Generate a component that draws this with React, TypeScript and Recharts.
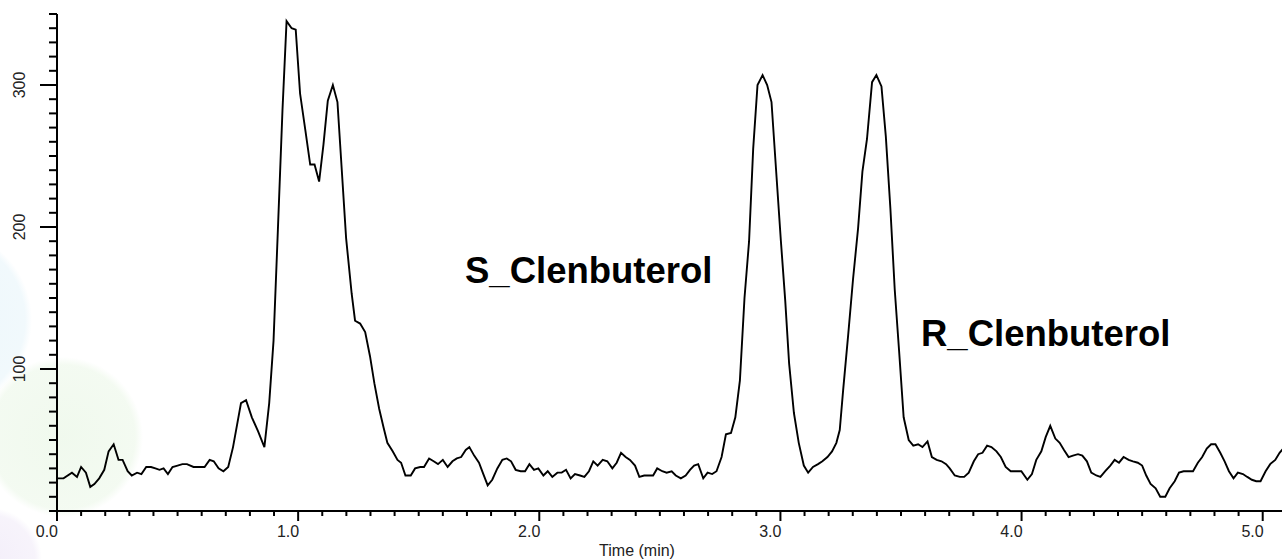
import { Customized, Line, LineChart, XAxis, YAxis } from 'recharts';

// retention time (min) and detector response
const times = [
  0.0, 0.027, 0.062, 0.083, 0.1, 0.12, 0.138, 0.155, 0.175, 0.196, 0.214, 0.235, 0.255, 0.272, 0.293,
  0.31, 0.332, 0.35, 0.37, 0.39, 0.408, 0.425, 0.442, 0.46, 0.479, 0.5, 0.52, 0.539, 0.566, 0.59,
  0.612, 0.633, 0.65, 0.67, 0.69, 0.71, 0.73, 0.763, 0.784, 0.808, 0.834, 0.86, 0.88, 0.898, 0.916,
  0.935, 0.952, 0.973, 0.99, 1.008, 1.03, 1.05, 1.068, 1.087, 1.105, 1.123, 1.144, 1.163, 1.181, 1.199,
  1.222, 1.236, 1.257, 1.278, 1.298, 1.316, 1.336, 1.354, 1.37, 1.392, 1.412, 1.427, 1.445, 1.467, 1.485,
  1.506, 1.522, 1.543, 1.562, 1.58, 1.6, 1.62, 1.64, 1.658, 1.676, 1.695, 1.71, 1.73, 1.75, 1.768,
  1.786, 1.805, 1.826, 1.847, 1.865, 1.883, 1.902, 1.923, 1.941, 1.959, 1.978, 1.996, 2.017, 2.035, 2.054,
  2.075, 2.093, 2.111, 2.13, 2.148, 2.169, 2.187, 2.206, 2.224, 2.242, 2.263, 2.282, 2.303, 2.321, 2.339,
  2.358, 2.376, 2.397, 2.415, 2.435, 2.456, 2.472, 2.489, 2.51, 2.528, 2.549, 2.566, 2.587, 2.607, 2.625,
  2.642, 2.659, 2.68, 2.698, 2.717, 2.735, 2.756, 2.774, 2.795, 2.813, 2.832, 2.851, 2.87, 2.887, 2.905,
  2.926, 2.945, 2.963, 2.984, 3.002, 3.02, 3.036, 3.056, 3.076, 3.097, 3.115, 3.135, 3.156, 3.174, 3.195,
  3.214, 3.232, 3.246, 3.26, 3.281, 3.301, 3.322, 3.34, 3.359, 3.38, 3.398, 3.419, 3.437, 3.456, 3.474,
  3.492, 3.511, 3.532, 3.551, 3.571, 3.589, 3.61, 3.628, 3.648, 3.668, 3.687, 3.702, 3.723, 3.744, 3.762,
  3.781, 3.802, 3.82, 3.838, 3.857, 3.875, 3.896, 3.914, 3.934, 3.955, 3.976, 3.999, 4.024, 4.043, 4.061,
  4.082, 4.1, 4.119, 4.14, 4.158, 4.176, 4.195, 4.213, 4.234, 4.252, 4.271, 4.289, 4.31, 4.327, 4.347,
  4.368, 4.386, 4.404, 4.423, 4.444, 4.462, 4.482, 4.5, 4.517, 4.535, 4.556, 4.575, 4.596, 4.614, 4.635,
  4.653, 4.672, 4.693, 4.711, 4.731, 4.749, 4.768, 4.786, 4.804, 4.824, 4.842, 4.86, 4.879, 4.897, 4.918,
  4.936, 4.955, 4.973, 4.991, 5.012, 5.031, 5.052, 5.07, 5.09,
];

const signal = [
  23, 23, 27, 24, 31, 27, 17, 19, 23, 29, 42, 47, 36, 36, 28,
  25, 27, 26, 31, 31, 30, 29, 30, 26, 31, 32, 33, 33, 31, 31,
  31, 36, 35, 30, 28, 31, 45, 76, 78, 66, 56, 45, 76, 120, 198,
  282, 345, 340, 339, 294, 268, 244, 244, 232, 258, 289, 300, 288, 240, 192,
  153, 134, 132, 126, 109, 90, 72, 59, 48, 42, 36, 34, 25, 25, 30,
  31, 31, 37, 35, 33, 36, 31, 35, 37, 38, 43, 45, 39, 34, 26,
  18, 22, 30, 36, 37, 35, 29, 28, 28, 33, 29, 30, 25, 28, 24,
  27, 27, 29, 23, 26, 25, 24, 28, 35, 32, 36, 35, 30, 34, 41,
  38, 36, 32, 24, 25, 25, 25, 30, 28, 27, 28, 25, 23, 25, 29,
  32, 33, 23, 27, 26, 28, 38, 54, 55, 66, 92, 150, 190, 255, 300,
  307, 300, 288, 235, 190, 148, 104, 69, 48, 32, 27, 31, 33, 35, 38,
  42, 48, 57, 85, 124, 163, 199, 239, 262, 302, 307, 299, 264, 213, 156,
  113, 66, 50, 46, 47, 45, 49, 38, 36, 35, 33, 30, 25, 24, 24,
  27, 35, 40, 41, 46, 45, 42, 38, 31, 28, 28, 28, 22, 26, 36,
  42, 52, 60, 51, 48, 43, 38, 39, 40, 39, 35, 27, 25, 24, 28,
  32, 36, 34, 38, 36, 35, 34, 32, 25, 19, 16, 10, 10, 16, 21,
  27, 28, 28, 28, 34, 38, 44, 47, 47, 41, 35, 28, 23, 27, 26,
  24, 22, 21, 21, 28, 33, 36, 41, 45,
];

const timeTicks = Array.from({ length: 51 }, (_, i) => i / 10);
const responseTicks = Array.from({ length: 36 }, (_, i) => i * 10);
const timeLabels = [0, 1, 2, 3, 4, 5];
const responseLabels = [100, 200, 300];

const peakNames = ['S_Clenbuterol', 'R_Clenbuterol'];

const data = times.map((t, i) => ({ t, v: signal[i] }));

const FONT = '"Liberation Sans", Arial, sans-serif';

const TimeTick = (props: any) => {
  const { x, y, payload } = props;
  const major = timeLabels.some((m) => Math.abs(m - payload.value) < 1e-6);
  return (
    <g>
      <line x1={x} y1={y} x2={x} y2={y + (major ? 10 : 5)} stroke="#000" strokeWidth={2} />
      {major && (
        <text x={x + 1} y={y + 26} textAnchor="end" fontSize={16} fontFamily={FONT} fill="#222">
          {payload.value.toFixed(1)}
        </text>
      )}
    </g>
  );
};

const ResponseTick = (props: any) => {
  const { x, y, payload } = props;
  const major = responseLabels.includes(payload.value);
  return (
    <g>
      <line x1={x - (major ? 17 : 8)} y1={y} x2={x} y2={y} stroke="#000" strokeWidth={2} />
      {major && (
        <text
          x={25}
          y={y}
          transform={`rotate(-90 25 ${y})`}
          textAnchor="middle"
          fontSize={16}
          fontFamily={FONT}
          fill="#222"
        >
          {payload.value}
        </text>
      )}
    </g>
  );
};

const Annotations = () => (
  <g fontFamily={FONT}>
    <text x={258} y={-3} textAnchor="end" fontSize={16} fill="#222">
      Intensity
    </text>
    <text x={465} y={283} fontSize={36.5} fontWeight="bold" fill="#000">
      {peakNames[0]}
    </text>
    <text x={921} y={346} fontSize={36.5} fontWeight="bold" fill="#000">
      {peakNames[1]}
    </text>
    <text x={637} y={556} textAnchor="middle" fontSize={16} fill="#222">
      Time (min)
    </text>
  </g>
);

export default function App() {
  return (
    <div
      style={{
        position: 'absolute',
        left: 0,
        top: 0,
        width: 1282,
        height: 559,
        overflow: 'hidden',
        background:
          'radial-gradient(circle at 63px 437px, rgba(222,242,216,0.45) 0, rgba(222,242,216,0.35) 72px, rgba(255,255,255,0) 80px),' +
          'radial-gradient(circle at -60px 320px, rgba(215,238,247,0.45) 0, rgba(215,238,247,0.35) 85px, rgba(255,255,255,0) 92px),' +
          'radial-gradient(circle at -10px 560px, rgba(232,222,244,0.5) 0, rgba(232,222,244,0.35) 45px, rgba(255,255,255,0) 52px),' +
          '#fff',
      }}
    >
      <LineChart
        width={1282}
        height={559}
        data={data}
        margin={{ top: 14, right: 0, bottom: 0, left: 0 }}
        style={{ overflow: 'visible' }}
      >
        <XAxis
          dataKey="t"
          type="number"
          domain={[0, 5.08]}
          allowDataOverflow
          ticks={timeTicks}
          interval={0}
          height={48}
          tickSize={0}
          tickMargin={0}
          tickLine={false}
          tick={<TimeTick />}
          axisLine={{ stroke: '#000', strokeWidth: 2 }}
        />
        <YAxis
          type="number"
          domain={[0, 350]}
          allowDataOverflow
          ticks={responseTicks}
          interval={0}
          width={57}
          tickSize={0}
          tickMargin={0}
          tickLine={false}
          tick={<ResponseTick />}
          axisLine={{ stroke: '#000', strokeWidth: 2 }}
        />
        <Line
          type="linear"
          dataKey="v"
          stroke="#000"
          strokeWidth={1.9}
          dot={false}
          isAnimationActive={false}
        />
        <Customized component={Annotations} />
      </LineChart>
    </div>
  );
}
